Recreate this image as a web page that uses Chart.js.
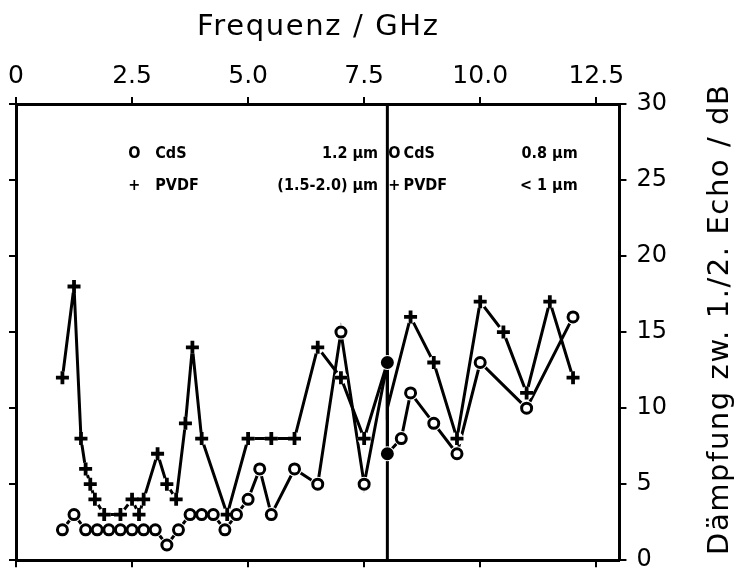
<!DOCTYPE html>
<html>
<head>
<meta charset="utf-8">
<script src="https://cdn.jsdelivr.net/npm/chart.js@4.4.1/dist/chart.umd.min.js"></script>
<style>
  html, body { margin: 0; background: #fff; }
  #wrap { width: 739px; height: 575px; }
</style>
</head>
<body>
<div id="wrap"><canvas id="grafico" width="739" height="575"></canvas></div>
<script>
// CdS (o) and PVDF (+), left part up to 8 GHz, right part from 8 GHz
const cdsX  = [1.0, 1.25, 1.5, 1.75, 2.0, 2.25, 2.5, 2.75, 3.0, 3.25, 3.5, 3.75, 4.0, 4.25, 4.5, 4.75, 5.0, 5.25, 5.5, 6.0, 6.5, 7.0, 7.5, 8.0,
               8.0, 8.3, 8.5, 9.0, 9.5, 10.0, 11.0, 12.0];
const cdsY  = [2, 3, 2, 2, 2, 2, 2, 2, 2, 1, 2, 3, 3, 3, 2, 3, 4, 6, 3, 6, 5, 15, 5, 13,
               7, 8, 11, 9, 7, 13, 10, 16];
const pvdfX = [1.0, 1.25, 1.4, 1.5, 1.6, 1.7, 1.9, 2.25, 2.5, 2.65, 2.75, 3.05, 3.25, 3.45, 3.65, 3.8, 4.0, 4.55, 5.0, 5.5, 6.0, 6.5, 7.0, 7.5, 8.0,
               8.0, 8.5, 9.0, 9.5, 10.0, 10.5, 11.0, 11.5, 12.0];
const pvdfY = [12, 18, 8, 6, 5, 4, 3, 3, 4, 3, 4, 7, 5, 4, 9, 14, 8, 3, 8, 8, 8, 14, 12, 8, 13,
               10, 16, 13, 8, 17, 15, 11, 17, 12];
const grenzeX = [8, 8];
const grenzeY = [0, 30];

const xTicks = [0, 2.5, 5, 7.5, 10, 12.5];
const xTickLabels = ["0", "2.5", "5.0", "7.5", "10.0", "12.5"];
const yTicks = [0, 5, 10, 15, 20, 25, 30];

const xTitel = "Frequenz / GHz";
const yTitel = "Dämpfung zw. 1./2. Echo / dB";
const legendeLinks = [["O", "CdS", "1.2 µm"], ["+", "PVDF", "(1.5-2.0) µm"]];
const legendeRechts = [["O", "CdS", "0.8 µm"], ["+", "PVDF", "< 1 µm"]];

const punkte = (xs, ys) => xs.map((x, i) => ({x: x, y: ys[i]}));
const schwarz = "#000";
const schrift = "'DejaVu Sans', sans-serif";

// filled dots where the two parts meet at 8 GHz
const amRand = ctx => ctx.raw && ctx.raw.x === grenzeX[0];

// text stretched to a given length, like the wide lettering of the scan
function gesperrt(c, text, laenge) {
  c.letterSpacing = "0px";
  const w = c.measureText(text).width;
  c.letterSpacing = Math.max(0, (laenge - w) / (text.length - 1)) + "px";
  c.fillText(text, 0, 0);
}

const beschriftung = {
  id: "beschriftung",
  afterDatasetsDraw(chart) {
    const c = chart.ctx, sx = chart.scales.x, sy = chart.scales.y;
    c.save();
    c.fillStyle = schwarz;
    c.font = "bold 16px 'DejaVu Sans Condensed', 'DejaVu Sans', sans-serif";
    c.textBaseline = "middle";
    const zeile = (eintraege, xm, xt, xe) => {
      eintraege.forEach((e, i) => {
        const y = sy.getPixelForValue(26.7 - i * 2.05);
        c.textAlign = "center";
        c.fillText(e[0], sx.getPixelForValue(xm), y);
        c.textAlign = "left";
        c.fillText(e[1], sx.getPixelForValue(xt), y);
        c.textAlign = "right";
        c.fillText(e[2], sx.getPixelForValue(xe), y);
      });
    };
    zeile(legendeLinks, 2.55, 3.0, 7.8);
    zeile(legendeRechts, 8.15, 8.35, 12.1);
    c.restore();

    c.save();
    c.fillStyle = schwarz;
    c.font = "29px " + schrift;
    c.textAlign = "left";
    c.textBaseline = "alphabetic";
    c.translate(197, 35);
    gesperrt(c, xTitel, 241);
    c.restore();

    c.save();
    c.fillStyle = schwarz;
    c.font = "29px " + schrift;
    c.textAlign = "left";
    c.textBaseline = "alphabetic";
    c.translate(728, 555);
    c.rotate(-Math.PI / 2);
    gesperrt(c, yTitel, 470);
    c.restore();
  }
};

const achse = {
  grid: {drawOnChartArea: false, color: schwarz, lineWidth: 2, tickLength: 7},
  border: {color: schwarz, width: 3}
};

new Chart(document.getElementById("grafico"), {
  type: "scatter",
  data: {
    datasets: [
      {label: "CdS", data: punkte(cdsX, cdsY), showLine: false, order: 0,
       pointStyle: "circle", pointRadius: 5, borderWidth: 3, borderColor: schwarz,
       pointBackgroundColor: ctx => amRand(ctx) ? schwarz : "#fff"},
      {label: "PVDF", data: punkte(pvdfX, pvdfY), showLine: false, order: 0,
       pointStyle: "cross", borderWidth: 3.8, borderColor: schwarz,
       pointRadius: ctx => amRand(ctx) ? 0 : 6.5},
      {label: "CdS Rand", data: punkte(cdsX, cdsY), showLine: false, order: 1,
       pointRadius: 7.5, borderWidth: 0, backgroundColor: "#fff", borderColor: "#fff"},
      {label: "PVDF Rand", data: punkte(pvdfX, pvdfY), showLine: false, order: 1,
       pointRadius: ctx => amRand(ctx) ? 0 : 6.5, borderWidth: 0, backgroundColor: "#fff", borderColor: "#fff"},
      {label: "CdS Linie", data: punkte(cdsX, cdsY), showLine: true, order: 2,
       pointRadius: 0, borderWidth: 3, borderColor: schwarz},
      {label: "PVDF Linie", data: punkte(pvdfX, pvdfY), showLine: true, order: 2,
       pointRadius: 0, borderWidth: 3, borderColor: schwarz},
      {label: "Grenze", data: punkte(grenzeX, grenzeY), showLine: true, order: 3,
       pointRadius: 0, borderWidth: 3, borderColor: schwarz}
    ]
  },
  options: {
    responsive: false,
    animation: false,
    layout: {padding: {left: 9, right: 62, top: 55, bottom: -3}},
    plugins: {legend: {display: false}, tooltip: {enabled: false}},
    scales: {
      x: {
        type: "linear", position: "top", min: 0, max: 13,
        afterBuildTicks: s => { s.ticks = xTicks.map(v => ({value: v})); },
        ticks: {color: schwarz, font: {family: schrift, size: 25}, padding: 6, maxRotation: 0,
                callback: (v, i) => xTickLabels[i]},
        ...achse
      },
      xb: {
        type: "linear", position: "bottom", min: 0, max: 13,
        afterBuildTicks: s => { s.ticks = xTicks.map(v => ({value: v})); },
        ticks: {display: false},
        ...achse
      },
      y: {
        type: "linear", position: "left", min: 0, max: 30,
        afterBuildTicks: s => { s.ticks = yTicks.map(v => ({value: v})); },
        ticks: {display: false},
        ...achse
      },
      yr: {
        type: "linear", position: "right", min: 0, max: 30,
        afterBuildTicks: s => { s.ticks = yTicks.map(v => ({value: v})); },
        ticks: {color: schwarz, font: {family: schrift, size: 24, lineHeight: 0.4}, padding: 10},
        ...achse
      }
    }
  },
  plugins: [beschriftung]
});
</script>
</body>
</html>
